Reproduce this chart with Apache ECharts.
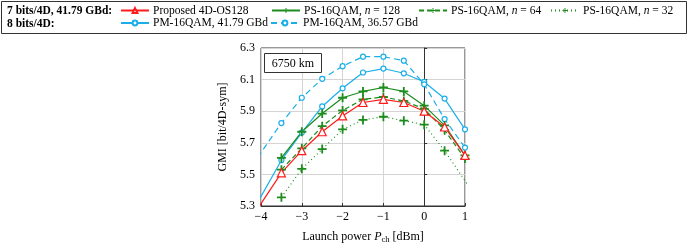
<!DOCTYPE html>
<html><head><meta charset="utf-8">
<script src="https://cdn.jsdelivr.net/npm/echarts@6/dist/echarts.min.js"></script>
<style>html,body{margin:0;padding:0;background:#fff}#c{width:689px;height:249px}</style>
</head><body><div id="c"></div>
<script>
// Launch power [dBm]
const launchPower = [-4.5, -4, -3.5, -3, -2.5, -2, -1.5, -1, -0.5, 0, 0.5, 1, 1.5];
// GMI [bit/4D-sym]
const proposedOS128 = [5.12, null, 5.51, 5.65, 5.77, 5.87, 5.955, 5.975, 5.955, 5.90, 5.80, 5.62, null];
const ps128 = [null, null, 5.605, 5.77, 5.885, 5.985, 6.025, 6.05, 6.025, 5.935, 5.81, 5.62, null];
const ps64 = [null, null, 5.53, 5.665, 5.805, 5.905, 5.975, 5.99, 5.965, 5.915, 5.78, 5.60, null];
const ps32 = [null, null, 5.355, 5.535, 5.66, 5.785, 5.845, 5.865, 5.84, 5.815, 5.65, null, 5.27];
const pm4179 = [5.13, null, 5.59, 5.765, 5.93, 6.045, 6.145, 6.17, 6.14, 6.085, 5.98, 5.785, null];
const pm3657 = [5.45, null, 5.825, 5.985, 6.105, 6.185, 6.245, 6.245, 6.22, 6.07, 5.85, 5.67, null];
const xTicks = [-4, -3, -2, -1, 0, 1];
const yTicks = [5.3, 5.5, 5.7, 5.9, 6.1, 6.3];
const seriesNames = ['Proposed 4D-OS128', 'PS-16QAM, n = 128', 'PS-16QAM, n = 64', 'PS-16QAM, n = 32', 'PM-16QAM, 41.79 GBd', 'PM-16QAM, 36.57 GBd'];

const FONT = 'Liberation Serif';
const RED = '#ff1a1a', GREEN = '#1c8c1c', BLUE = '#1aaee8';
const PLUS = 'path://M4,0h2v4h4v2h-4v4h-2v-4h-4v-2h4z';

function pairs(ys) {
  const out = [];
  ys.forEach((y, i) => { if (y !== null) out.push([launchPower[i], y]); });
  return out;
}
function mk(name, ys, color, type, symbol, size, fill) {
  return {
    name, type: 'line', data: pairs(ys), clip: true,
    symbol, symbolSize: size, showSymbol: true,
    lineStyle: { color, width: 1.2, type },
    itemStyle: { color: fill, borderColor: color, borderWidth: fill === color ? 0 : 1.2 },
    emphasis: { disabled: true }, animation: false, z: 3
  };
}
const series = [
  mk(seriesNames[4], pm4179, BLUE, 'solid', 'circle', 5, '#fff'),
  mk(seriesNames[5], pm3657, BLUE, [6, 4], 'circle', 5, '#fff'),
  mk(seriesNames[1], ps128, GREEN, 'solid', PLUS, 9, GREEN),
  mk(seriesNames[2], ps64, GREEN, [5, 3], PLUS, 9, GREEN),
  mk(seriesNames[3], ps32, GREEN, [1, 3], PLUS, 9, GREEN),
  mk(seriesNames[0], proposedOS128, RED, 'solid', 'triangle', 8, '#fff')
];

const richLegend = {
  a: { fontFamily: FONT, fontSize: 11.5, color: '#000' },
  i: { fontFamily: FONT, fontSize: 11.5, fontStyle: 'italic', color: '#000' }
};
function legendFmt(name) {
  const m = name.match(/^(.*), n = (\d+)$/);
  if (m) return '{a|' + m[1] + ', }{i|n}{a| = ' + m[2] + '}';
  return '{a|' + name + '}';
}
const legendPos = [
  [seriesNames[0], 120, 4.5], [seriesNames[1], 271, 4.5], [seriesNames[2], 418, 4.5], [seriesNames[3], 550, 4.5],
  [seriesNames[4], 120, 17], [seriesNames[5], 270, 17]
];
const legends = legendPos.map(([n, l, t]) => ({
  data: [n], left: l, top: t, padding: 0, itemWidth: 28, itemHeight: 6, itemGap: 0,
  selectedMode: false, formatter: legendFmt,
  textStyle: { fontFamily: FONT, fontSize: 11.5, color: '#000', padding: [0, 0, 0, -1], rich: richLegend }
}));

const chart = echarts.init(document.getElementById('c'), null, { renderer: 'canvas' });
chart.setOption({
  animation: false,
  backgroundColor: '#fff',
  legend: legends,
  grid: { left: 261, right: 224, top: 48, bottom: 43, show: true, borderColor: '#333', borderWidth: 1, containLabel: false },
  xAxis: {
    type: 'value', min: xTicks[0], max: xTicks[xTicks.length - 1], interval: 1,
    axisLine: { show: true, lineStyle: { color: '#333' } },
    axisTick: { show: true, inside: true, length: 3, lineStyle: { color: '#333' } },
    splitLine: { show: true, lineStyle: { color: '#d4d4d4', width: 1 } },
    axisLabel: { fontFamily: FONT, fontSize: 12, color: '#000', margin: 5,
      formatter: v => (v < 0 ? '\u2212' + Math.abs(v) : String(v)) },
    name: '{n|Launch power }{i|P}{s|ch}{n| [dBm]}', nameLocation: 'middle', nameGap: 24,
    nameTextStyle: { rich: {
      n: { fontFamily: FONT, fontSize: 12, color: '#000' },
      i: { fontFamily: FONT, fontSize: 12, fontStyle: 'italic', color: '#000' },
      s: { fontFamily: FONT, fontSize: 8.5, color: '#000', padding: [5, 0, 0, 0] }
    } }
  },
  yAxis: {
    type: 'value', min: yTicks[0], max: yTicks[yTicks.length - 1], interval: 0.2,
    axisLine: { show: true, lineStyle: { color: '#333' } },
    axisTick: { show: true, inside: true, length: 3, lineStyle: { color: '#333' } },
    splitLine: { show: true, lineStyle: { color: '#d4d4d4', width: 1 } },
    axisLabel: { fontFamily: FONT, fontSize: 12, color: '#000', margin: 6, formatter: v => v.toFixed(1) },
    name: 'GMI [bit/4D-sym]', nameLocation: 'middle', nameGap: 32, nameRotate: 90,
    nameTextStyle: { fontFamily: FONT, fontSize: 12, color: '#000' }
  },
  graphic: [
    { type: 'rect', shape: { x: 1.5, y: 1.5, width: 685, height: 32 }, style: { fill: 'none', stroke: '#333', lineWidth: 1 }, z: 0 },
    { type: 'text', x: 7, y: 11.5, style: { text: '7 bits/4D, 41.79 GBd:', fontFamily: FONT, fontWeight: 'bold', fontSize: 11.5, fill: '#000', verticalAlign: 'middle' } },
    { type: 'text', x: 7, y: 24, style: { text: '8 bits/4D:', fontFamily: FONT, fontWeight: 'bold', fontSize: 11.5, fill: '#000', verticalAlign: 'middle' } },
    { type: 'rect', shape: { x: 264.5, y: 53.5, width: 57, height: 19 }, style: { fill: '#fff', stroke: '#333', lineWidth: 1 }, z: 10 },
    { type: 'text', x: 293, y: 63.5, style: { text: '6750 km', fontFamily: FONT, fontSize: 12, fill: '#000', align: 'center', verticalAlign: 'middle' }, z: 11 }
  ],
  series
});
</script></body></html>
